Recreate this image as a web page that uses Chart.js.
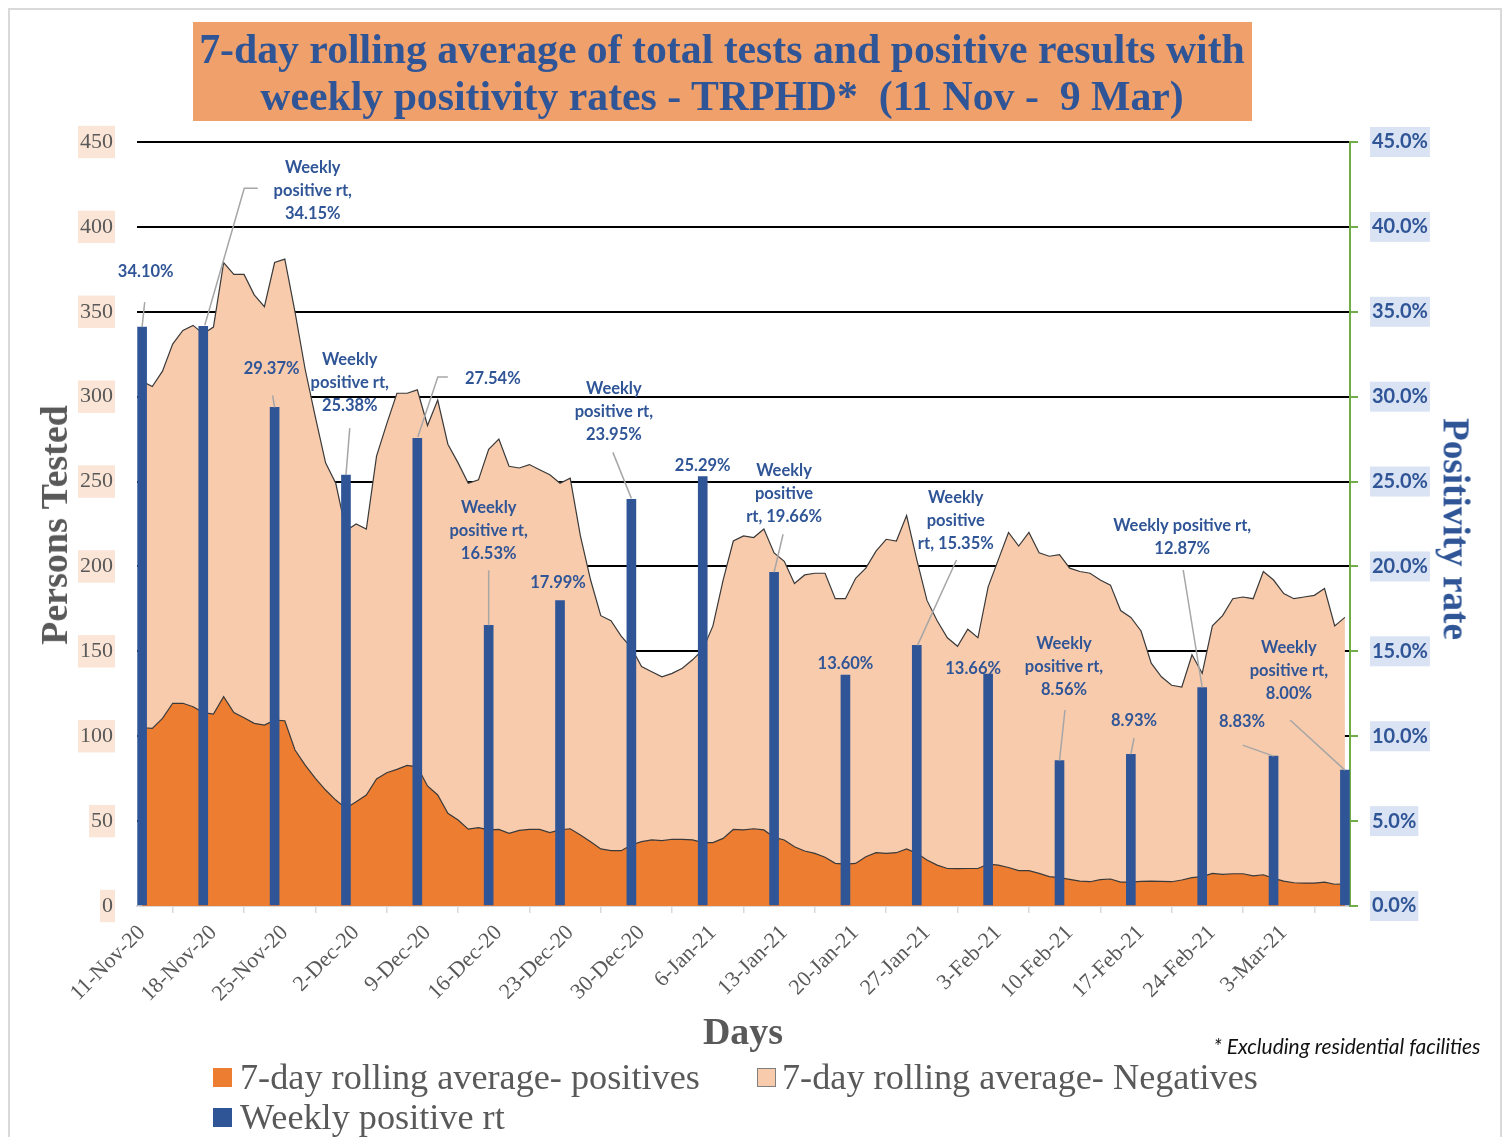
<!DOCTYPE html>
<html><head><meta charset="utf-8">
<script src="https://cdn.jsdelivr.net/npm/chart.js@4.4.1/dist/chart.umd.min.js"></script>
<style>
html,body{margin:0;padding:0;background:#fff;width:1506px;height:1137px;overflow:hidden;}
#frame{position:absolute;left:8px;top:8px;width:1490px;height:1140px;border:2px solid #D9D9D9;border-bottom:none;}
#titlebox{position:absolute;left:193px;top:22px;width:1059px;height:99px;background:#F0A06A;}
#c{position:absolute;left:0;top:0;}
.t{position:absolute;white-space:pre;line-height:1;transform:translate(-50%,-50%);}
.tl{position:absolute;white-space:pre;line-height:1;transform:translate(0,-50%);}
.serif{font-family:"Liberation Serif",serif;}
.sq{position:absolute;width:19px;height:19px;box-sizing:border-box;}
</style></head><body>
<div id="frame"></div>
<div id="titlebox"></div>
<canvas id="c" width="1506" height="1137"></canvas>
<div class="t serif" id="title1" style="left:722px;top:50px;color:#2F5597;font-weight:bold;">7-day rolling average of total tests and positive results with</div>
<div class="t serif" id="title2" style="left:722px;top:97px;color:#2F5597;font-weight:bold;">weekly positivity rates - TRPHD*  (11 Nov -  9 Mar)</div>
<div class="t serif" id="ytitle" style="left:54px;top:525px;color:#595959;font-weight:bold;transform:translate(-50%,-50%) rotate(-90deg);">Persons Tested</div>
<div class="t serif" id="y2title" style="left:1456px;top:529px;color:#2F5597;font-weight:bold;transform:translate(-50%,-50%) rotate(90deg);">Positivity rate</div>
<div class="t serif" id="xtitle" style="left:743px;top:1032px;color:#595959;font-weight:bold;">Days</div>
<div class="t" id="foot" style="left:1347px;top:1046px;color:#111;font-family:Lato,sans-serif;font-style:italic;">* Excluding residential facilities</div>
<div class="sq" style="left:213px;top:1068px;background:#ED7D31;"></div>
<div class="tl serif" id="leg1" style="left:240px;top:1077px;color:#595959;">7-day rolling average- positives</div>
<div class="sq" style="left:757px;top:1068px;background:#F8CBAD;border:1px solid #7f7f7f;"></div>
<div class="tl serif" id="leg2" style="left:782px;top:1077px;color:#595959;">7-day rolling average- Negatives</div>
<div class="sq" style="left:213px;top:1108px;background:#2F5597;"></div>
<div class="tl serif" id="leg3" style="left:240px;top:1117px;color:#595959;">Weekly positive rt</div>
<script>
// ---------- DATA ----------
const tickLabels = ['11-Nov-20','18-Nov-20','25-Nov-20','2-Dec-20','9-Dec-20','16-Dec-20','23-Dec-20','30-Dec-20','6-Jan-21','13-Jan-21','20-Jan-21','27-Jan-21','3-Feb-21','10-Feb-21','17-Feb-21','24-Feb-21','3-Mar-21'];

// 7-day rolling average of positives, one value per day from 11-Nov-20 to 9-Mar-21
const positives = [105,104.6,110.5,119.4,119.4,117.4,113.9,113,123.3,113.9,110.9,107.6,106.6,109.5,109.1,91.9,83,75.2,68.3,62.4,
57.5,61.4,65.4,74.8,78.5,80.5,82.8,82,70.7,65.4,54.6,50.6,45.3,46.1,44.8,45.1,42.8,44.5,45.1,45.1,
43.2,44.8,45.5,41.8,37.9,33.6,32.6,32.6,35.9,37.9,38.9,38.5,39.3,39.3,38.9,37.3,37.3,39.8,45.1,44.8,
45.5,44.8,40.4,38.9,34.9,32.4,31,28.7,25.1,24.7,25.1,29,31.4,31,31.4,33.6,31,27.1,24.1,22.1,
22,22.1,22.1,24.7,24.1,22.7,20.8,20.8,19.2,17.3,16.7,15.7,14.7,14.3,15.5,15.9,14.1,14.1,14.5,14.7,
14.5,14.3,15.3,16.7,17.3,19.2,18.6,19,19,17.7,18.4,16.3,14.7,13.7,13.5,13.5,14.1,12.8,13];

// 7-day rolling average of negatives, same days
const negatives = [204,201.4,204.5,211.6,219.6,224.6,223.1,228,255.7,258.1,261.1,252.4,246.4,269.5,271.9,258.1,233,212.8,192.7,186.6,
163.5,163.6,156.6,190.2,205.5,221.5,219.2,222,212.3,232.6,217.4,210.4,203.7,204.9,224.2,229.9,216.2,213.5,214.9,211.9,
210.8,204.2,206.5,176.2,154.1,137.4,135.4,126.4,116.1,103.1,99.1,96.5,97.7,100.7,106.1,113.7,127.7,152.2,169.9,173.2,
171.5,177.2,167.6,164.1,155.1,162.6,165,167.3,155.9,156.3,167.9,170,177.6,185,183.6,196.4,173,152.9,143.9,135.9,
131,140.9,135.9,163.3,179.9,197.3,191.2,199.2,188.8,188.7,190.3,183.3,182.3,181.7,176.5,173.1,159.9,155.9,147.5,128.3,
120.5,115.7,113.7,131.3,119.7,145.8,152.4,162,163,163.3,178.6,175.7,169.3,167.3,168.5,169.5,172.9,152.2,157];

// day index (0 = 11-Nov-20) of each weekly positivity bar, and the rates (%)
const barDayIndex = [0,6,13,20,27,34,41,48,55,62,69,76,83,90,97,104,111,118];
const weeklyRate = [34.10,34.15,29.37,25.38,27.54,16.53,17.99,23.95,25.29,19.66,13.60,15.35,13.66,8.56,8.93,12.87,8.83,8.00];

// ---------- LABEL LAYOUT (offsets in px from bar top) ----------
const labelLayout = [
 {lines:['{v}'], dx:3.6, dy:-55, leader:[[2.6,-25],[0,0]]},
 {lines:['Weekly','positive rt,','{v}'], dx:109.5, dy:-159, leader:[[54.5,-138],[41,-138],[1.5,-1]]},
 {lines:['{v}'], dx:-3, dy:-39, leader:[[-2,-12],[0,0]]},
 {lines:['Weekly','positive rt,','{v}'], dx:3.8, dy:-115, leader:[[3.8,-47],[0,0]]},
 {lines:['{v}'], dx:75.5, dy:-59.4, leader:[[30.5,-61.4],[20.5,-61.4],[0.5,-1.4]]},
 {lines:['Weekly','positive rt,','{v}'], dx:0, dy:-118, leader:[[0,-55],[0,0]]},
 {lines:['{v}'], dx:-2, dy:-17.5},
 {lines:['Weekly','positive rt,','{v}'], dx:-17.5, dy:-111, leader:[[-18.5,-47],[0,-1]]},
 {lines:['{v}'], dx:0, dy:-10.6},
 {lines:['Weekly','positive','rt, {v}'], dx:10, dy:-102, leader:[[9,-38],[0,0]]},
 {lines:['{v}'], dx:0, dy:-11},
 {lines:['Weekly','positive','rt, {v}'], dx:39, dy:-147.4, leader:[[39.7,-85.4],[0.7,0]]},
 {lines:['{v}'], dx:-15, dy:-5},
 {lines:['Weekly','positive rt,','{v}'], dx:4.5, dy:-116.7, leader:[[5.5,-50.7],[0,0]]},
 {lines:['{v}'], dx:3.2, dy:-33.4, leader:[[3.2,-16.4],[0,0]]},
 {lines:['Weekly positive rt,','{v}'], dx:-20, dy:-161.5, leader:[[-19,-117.5],[0,0]]},
 {lines:['{v}'], dx:-31.5, dy:-34, leader:[[-30.8,-11],[0,0]]},
 {lines:['Weekly','positive rt,','{v}'], dx:-56, dy:-123, leader:[[-54.8,-50.2],[0,0]]}
];

// ---------- TEXT FITTING ----------
function fitSize(el, target){ el.style.fontSize='100px'; const w=el.offsetWidth; return 100*target/w; }
const t1=document.getElementById('title1'), t2=document.getElementById('title2');
const ts=fitSize(t1,1046); t1.style.fontSize=ts+'px'; t2.style.fontSize=ts+'px';
[['ytitle',240],['y2title',222],['xtitle',80],['foot',267]].forEach(([id,w])=>{const e=document.getElementById(id); e.style.fontSize=fitSize(e,w)+'px';});
const l1=document.getElementById('leg1'); const ls=fitSize(l1,460);
['leg1','leg2','leg3'].forEach(id=>document.getElementById(id).style.fontSize=ls+'px');

// ---------- CHART ----------
const xTickValues = tickLabels.map((_,k)=>-0.5+7*k).concat([-0.5+7*tickLabels.length]);

const labelPlugin = {
 id:'barLabels',
 afterDatasetsDraw(chart){
  const {ctx, scales:{x, y2}} = chart;
  ctx.save();
  barDayIndex.forEach((d,i)=>{
   const px = x.getPixelForValue(d), py = y2.getPixelForValue(weeklyRate[i]);
   const L = labelLayout[i];
   if (L.leader){
    ctx.strokeStyle='#A6A6A6'; ctx.lineWidth=1.5; ctx.beginPath();
    L.leader.forEach(([a,b],j)=> j ? ctx.lineTo(px+a,py+b) : ctx.moveTo(px+a,py+b));
    ctx.stroke();
   }
   ctx.font='bold 16.5px Lato'; ctx.fillStyle='#2F5597'; ctx.textAlign='center'; ctx.textBaseline='middle';
   const v = weeklyRate[i].toFixed(2)+'%';
   L.lines.forEach((s,j)=> ctx.fillText(s.replace('{v}',v), px+L.dx, py+L.dy+j*23));
  });
  ctx.restore();
 }
};

new Chart(document.getElementById('c'), {
 type:'line',
 data:{datasets:[
  {type:'bar', label:'Weekly positive rt', data:barDayIndex.map((d,i)=>({x:d,y:weeklyRate[i]})), xAxisID:'x', yAxisID:'y2', backgroundColor:'#2F5597', barThickness:9, order:0},
  {label:'7-day rolling average- positives', data:positives.map((v,i)=>({x:i,y:v})), xAxisID:'x', yAxisID:'y', backgroundColor:'#ED7D31', borderColor:'#3a3a3a', borderWidth:1.2, fill:'origin', pointRadius:0, tension:0, order:1},
  {label:'7-day rolling average- Negatives', data:negatives.map((v,i)=>({x:i,y:v})), xAxisID:'x', yAxisID:'y', backgroundColor:'#F8CBAD', borderColor:'#3a3a3a', borderWidth:1.2, fill:'-1', pointRadius:0, tension:0, order:1}
 ]},
 options:{
  responsive:false, animation:false, devicePixelRatio:1,
  layout:{padding:{top:142,left:0,right:0,bottom:0}},
  plugins:{legend:{display:false}, tooltip:{enabled:false}, title:{display:false}},
  scales:{
   x:{type:'linear', min:-0.5, max:118.5, offset:false,
    afterBuildTicks:s=>{ s.ticks = xTickValues.map(v=>({value:v})); },
    afterFit:s=>{ s.height=231; },
    ticks:{autoSkip:false, minRotation:45, maxRotation:45, padding:7, labelOffset:5, color:'#595959', font:{family:'Liberation Serif', size:22}, callback:(v,i)=> tickLabels[i] ?? ''},
    grid:{drawOnChartArea:false, color:'#D9D9D9', lineWidth:1.5, tickLength:7},
    border:{color:'#D9D9D9', width:2}
   },
   y:{stacked:true, min:0, max:450, position:'left',
    afterFit:s=>{ s.width=137; },
    ticks:{stepSize:50, padding:24, color:'#595959', font:{family:'Liberation Serif', size:22}, showLabelBackdrop:true, backdropColor:'#FBE5D6', backdropPadding:{top:3,bottom:3,left:2,right:2}},
    grid:{color:c=> c.tick && c.tick.value===0 ? '#D9D9D9' : '#000000', lineWidth:2, drawTicks:false},
    border:{display:false}
   },
   y2:{position:'right', min:0, max:45,
    afterFit:s=>{ s.width=156; },
    ticks:{stepSize:5, callback:v=>v.toFixed(1)+'%', padding:14, color:'#2F5597', font:{family:'Lato', size:20, weight:'bold'}, showLabelBackdrop:true, backdropColor:'#DAE3F3', backdropPadding:{top:3,bottom:3,left:2,right:2}},
    grid:{drawOnChartArea:false, color:'#70AD47', lineWidth:2, tickLength:8},
    border:{color:'#70AD47', width:2}
   }
  }
 },
 plugins:[labelPlugin]
});
</script>
</body></html>
